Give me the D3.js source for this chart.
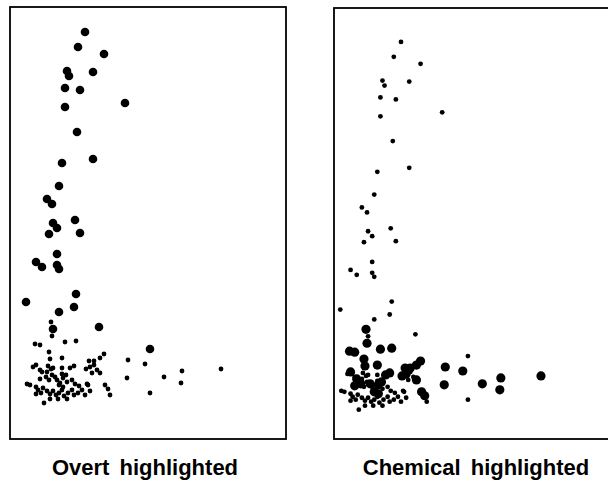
<!DOCTYPE html>
<html>
<head>
<meta charset="utf-8">
<script src="https://cdn.jsdelivr.net/npm/d3@7.9.0/dist/d3.min.js"></script>
<style>
  html, body { margin: 0; padding: 0; background: #fff; }
  svg { display: block; }
  .label { font-family: "Liberation Sans", Arial, Helvetica, sans-serif; font-weight: bold; font-size: 22px; word-spacing: 4px; }
</style>
</head>
<body>
<svg id="chart" width="608" height="482"></svg>
<script>
// points, [x, y] in arbitrary units
const overt = [
  [37.5, 203.5], [34, 196], [47, 192.5], [28.5, 184], [29.5, 181.5], [41.5, 183.5],
  [27.5, 175.5], [35, 174.5], [27.5, 166], [57.5, 168], [33.5, 153.5], [26, 138],
  [41.5, 140], [24.5, 126.5], [18.5, 120], [21, 117.5], [32.5, 109.5], [21.5, 108],
  [23.5, 105.5], [19.5, 102.5], [35, 103], [23.5, 92.5], [13, 88.5], [16, 86],
  [23.5, 87], [24.5, 85], [33, 72.5], [8, 68.5], [32, 66], [24.5, 63.5],
  [44.5, 56], [21.5, 55], [70, 45]
];

const chemical = [
  [20.5, 58.5], [21, 51.5], [12.5, 47.5], [15, 47], [27.5, 48.5], [33, 49],
  [19.5, 43.5], [20, 40], [26, 40.5], [13, 37], [39.5, 39], [42, 39],
  [45, 40.5], [47, 42.5], [38, 35], [40, 36], [45, 33], [30, 35.5],
  [32, 36.5], [28, 32], [26.5, 30.5], [16, 33.5], [18, 31], [15, 30],
  [22.5, 31], [24.5, 27], [26.5, 26], [47.5, 27], [49, 25], [59, 39.5],
  [58.5, 30.5], [67.5, 37.5], [77, 31], [86, 34], [85.5, 28], [105.5, 35]
];

const other = [
  [11.5, 36], [19, 36.5], [20.5, 35], [26, 35.5], [42, 37], [41, 33],
  [43.5, 34.5], [38.5, 27.5], [50, 22], [17, 18], [70, 23], [18.5, 33.5],
  [21, 32], [19.5, 29.5], [23.5, 29.5], [26, 32.5], [25, 28], [28.5, 28.5],
  [31, 29.5], [32.5, 27.5], [34.5, 26.5], [8.5, 27.5], [10, 27], [13, 26],
  [14, 24.5], [15.5, 23], [16.5, 25.5], [18.5, 24], [20, 22.5], [21.5, 24],
  [23, 22], [24.5, 23], [26, 24.5], [27, 21.5], [29, 23], [31, 24.5],
  [32, 22], [34, 23], [36, 24.5], [37.5, 22], [39, 27], [15, 34.5],
  [21.5, 35.5], [40, 24], [24, 20], [28.5, 20], [20, 20], [13, 22.5]
];

const panelTitles = ['Overt highlighted', 'Chemical highlighted'];

const svg = d3.select('#chart');

// the two scanned panels are not placed quite identically
const panels = [
  {
    title: panelTitles[0],
    frame: { x: 10, y: 7, w: 276, h: 432 },
    x: d3.scaleLinear().domain([0, 138]).range([10, 286]),
    y: d3.scaleLinear().domain([0, 216]).range([439, 7]),
    big: 'overt',
    labelX: 145
  },
  {
    title: panelTitles[1],
    frame: { x: 334, y: 8, w: 280, h: 431 },
    x: d3.scaleLinear().domain([0, 138]).range([323.8, 607.9]),
    y: d3.scaleLinear().domain([0, 216]).range([445.3, 17.2]),
    big: 'chemical',
    labelX: 476
  }
];

let rBig = d3.scaleOrdinal().domain(['overt', 'chemical']).range([4.3, 4.6]);
const rSmall = 2.4;

panels.forEach((p) => {
  let g = svg.append('g');

  g.append('rect')
    .attr('x', p.frame.x)
    .attr('y', p.frame.y)
    .attr('width', p.frame.w)
    .attr('height', p.frame.h)
    .attr('fill', 'none')
    .attr('stroke', '#000')
    .attr('stroke-width', 1.8);

  let pts = [
    ...other.map((d) => ({ x: d[0], y: d[1], kind: 'other' })),
    ...overt.map((d) => ({ x: d[0], y: d[1], kind: 'overt' })),
    ...chemical.map((d) => ({ x: d[0], y: d[1], kind: 'chemical' }))
  ];

  g.selectAll('circle')
    .data(pts)
    .join('circle')
    .attr('cx', (d) => p.x(d.x))
    .attr('cy', (d) => p.y(d.y))
    .attr('r', (d) => (d.kind === p.big ? rBig(d.kind) : rSmall))
    .attr('fill', '#000');

  g.append('text')
    .attr('class', 'label')
    .attr('x', p.labelX)
    .attr('y', 475)
    .attr('text-anchor', 'middle')
    .text(p.title);
});
</script>
</body>
</html>
